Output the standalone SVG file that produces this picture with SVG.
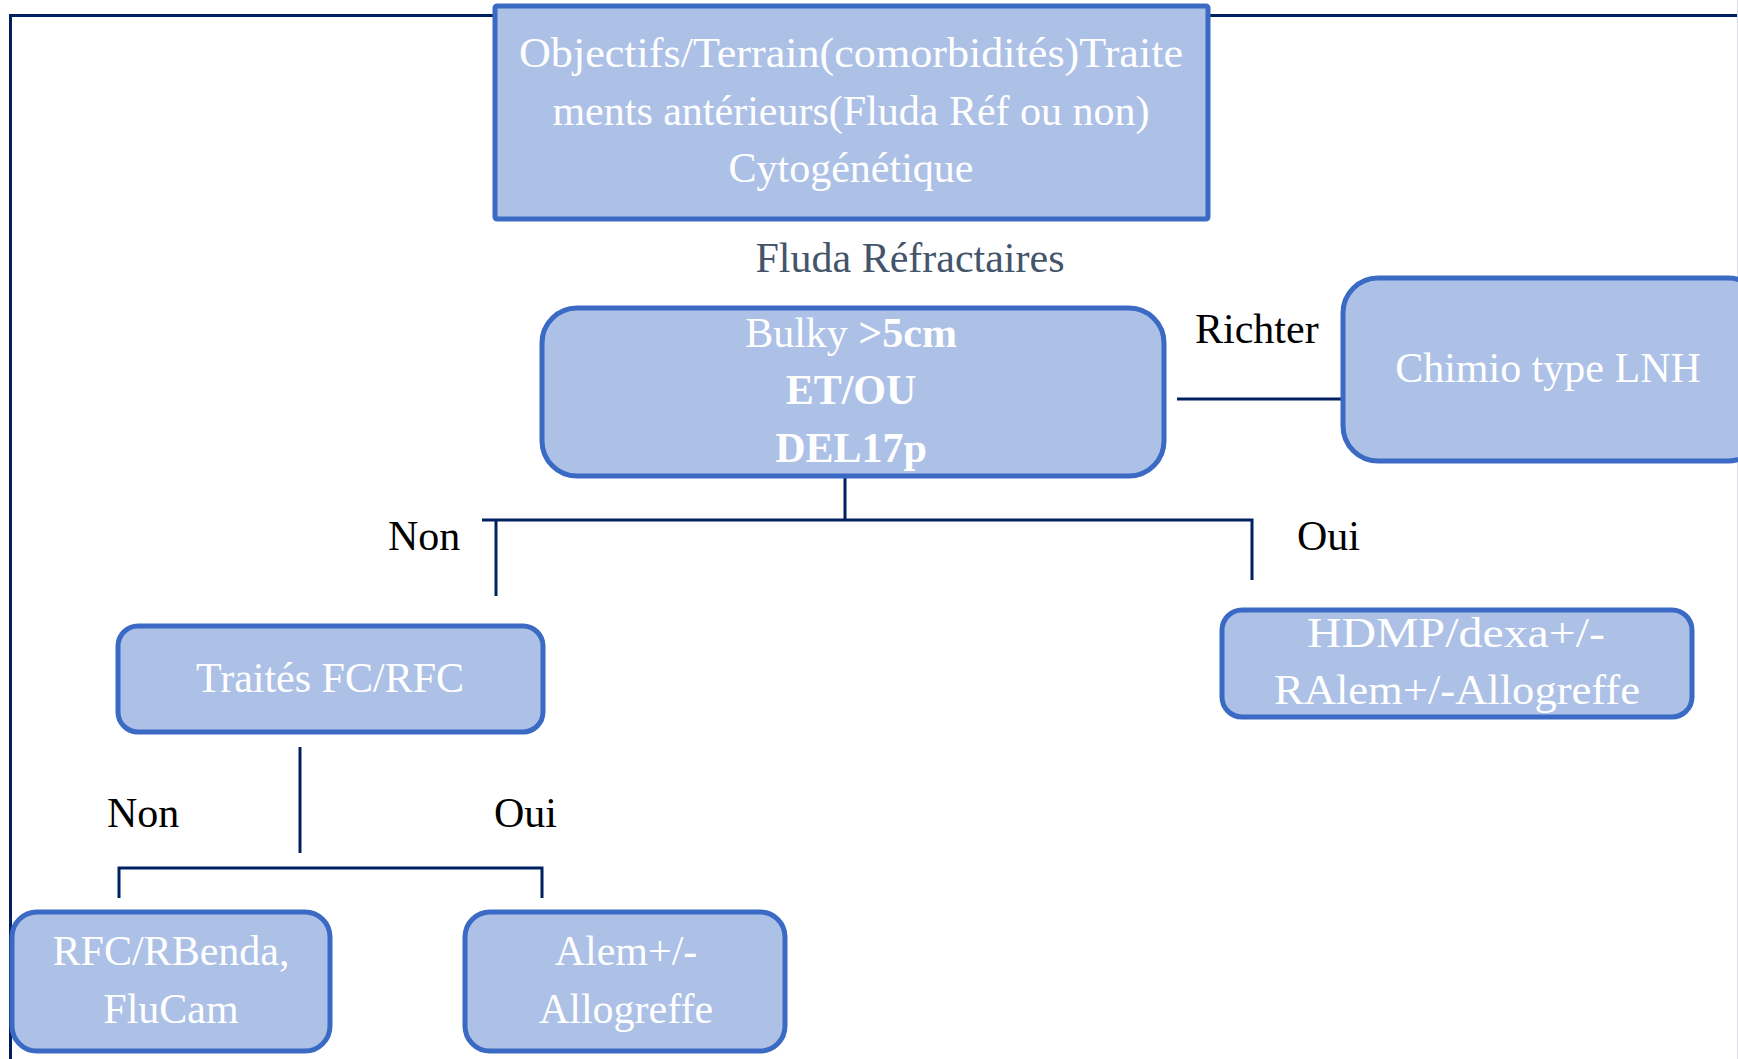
<svg xmlns="http://www.w3.org/2000/svg" width="1738" height="1059" viewBox="0 0 1738 1059">
<style>
.box{fill:#ADC1E7;stroke:#3A6AC4;stroke-width:5}
.bt{fill:#FFFFFF;font-family:"Liberation Serif","Times New Roman",serif;font-size:42px;text-anchor:middle}
.lbl{fill:#000000;font-family:"Liberation Serif","Times New Roman",serif;font-size:42px}
.ln{fill:none;stroke:#002060;stroke-width:3}
</style>
<rect width="1738" height="1059" fill="#FFFFFF"/>
<g id="frame">
<path class="ln" d="M10.5 1059 V15.5 H1738"/>
<line x1="1737.5" y1="0" x2="1737.5" y2="1059" stroke="#DADDE6" stroke-width="1"/>
</g>
<g id="connectors">
<path class="ln" d="M845 476 V520"/>
<path class="ln" d="M482 520 H1252 V580"/>
<path class="ln" d="M496 520 V596"/>
<path class="ln" d="M1177 399 H1343"/>
<path class="ln" d="M300 747 V853"/>
<path class="ln" d="M119 898 V868 H542 V898"/>
</g>
<g id="node-top">
<rect class="box" x="495" y="6" width="713" height="213" rx="2"/>
<text class="bt" font-size="44" x="851" y="67" textLength="664" lengthAdjust="spacingAndGlyphs">Objectifs/Terrain(comorbidités)Traite</text>
<text class="bt" font-size="44" x="851" y="125">ments antérieurs(Fluda Réf ou non)</text>
<text class="bt" font-size="44" x="851" y="182">Cytogénétique</text>
</g>
<g id="label-fluda">
<text x="910" y="272" fill="#44546A" font-family="Liberation Serif, Times New Roman, serif" font-size="42" text-anchor="middle">Fluda Réfractaires</text>
</g>
<g id="node-bulky">
<rect class="box" x="542" y="308" width="622" height="168" rx="35"/>
<text class="bt" x="851" y="347">Bulky <tspan font-weight="bold">&gt;5cm</tspan></text>
<text class="bt" x="851" y="404" font-weight="bold" font-size="44">ET/OU</text>
<text class="bt" x="851" y="462" font-weight="bold">DEL17p</text>
</g>
<g id="label-richter">
<text class="lbl" x="1195" y="343">Richter</text>
</g>
<g id="node-chimio">
<rect class="box" x="1343" y="278" width="420" height="183" rx="35"/>
<text class="bt" x="1548" y="382">Chimio type LNH</text>
</g>
<g id="label-non1"><text class="lbl" x="388" y="550">Non</text></g>
<g id="label-oui1"><text class="lbl" x="1297" y="550">Oui</text></g>
<g id="node-traites">
<rect class="box" x="118" y="626" width="425" height="106" rx="20"/>
<text class="bt" x="330" y="692" font-size="43">Traités FC/RFC</text>
</g>
<g id="node-hdmp">
<rect class="box" x="1222" y="610" width="470" height="107" rx="20"/>
<text class="bt" x="1456" y="647" font-size="44" textLength="298" lengthAdjust="spacingAndGlyphs">HDMP/dexa+/-</text>
<text class="bt" x="1457" y="704" font-size="43" textLength="366" lengthAdjust="spacingAndGlyphs">RAlem+/-Allogreffe</text>
</g>
<g id="label-non2"><text class="lbl" x="107" y="827">Non</text></g>
<g id="label-oui2"><text class="lbl" x="494" y="827">Oui</text></g>
<g id="node-rfc">
<rect class="box" x="12" y="912" width="318" height="139" rx="25"/>
<text class="bt" x="171" y="965">RFC/RBenda,</text>
<text class="bt" x="171" y="1023">FluCam</text>
</g>
<g id="node-alem">
<rect class="box" x="465" y="912" width="320" height="139" rx="25"/>
<text class="bt" x="626" y="965" font-size="44">Alem+/-</text>
<text class="bt" x="626" y="1023">Allogreffe</text>
</g>
</svg>
